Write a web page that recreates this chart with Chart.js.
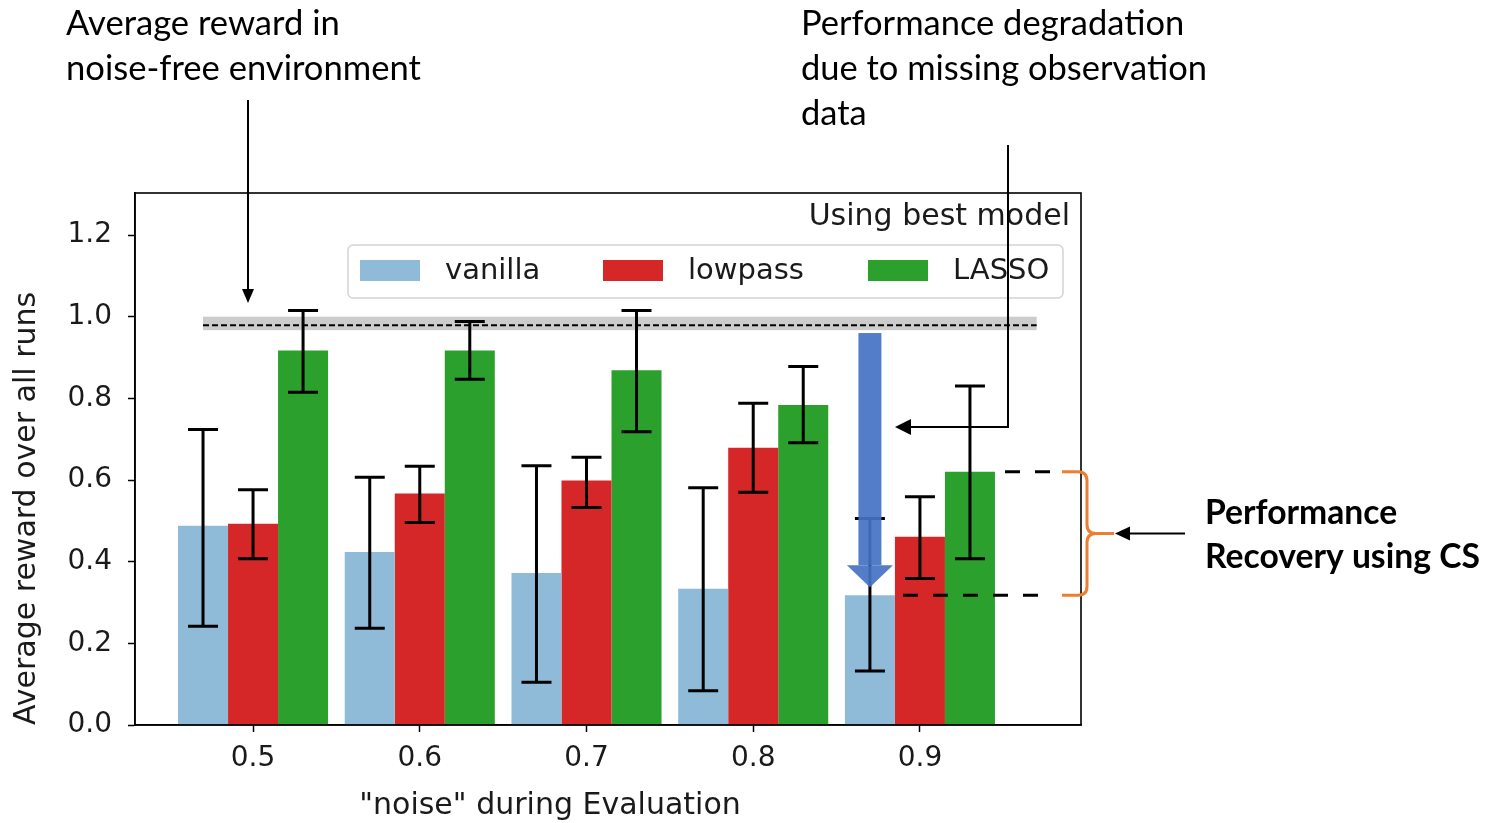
<!DOCTYPE html>
<html>
<head>
<meta charset="utf-8">
<script src="https://cdn.jsdelivr.net/npm/chart.js@4/dist/chart.umd.min.js"></script>
<style>
  html, body { margin: 0; padding: 0; background: #fff; }
  #wrap { width: 1486px; height: 823px; position: relative; }
</style>
</head>
<body>
<div id="wrap"><canvas id="canvas"></canvas></div>
<script>
// noise levels on the x axis
const noise = [0.5, 0.6, 0.7, 0.8, 0.9];
const seriesNames = ['vanilla', 'lowpass', 'LASSO'];
const seriesColors = ['#8fbbd9', '#d62728', '#2ca02c'];

// mean reward per method, with error bar ends
const vanilla   = [0.488, 0.424, 0.372, 0.334, 0.318];
const vanillaHi = [0.724, 0.607, 0.635, 0.581, 0.506];
const vanillaLo = [0.242, 0.237, 0.105, 0.084, 0.132];
const lowpass   = [0.493, 0.567, 0.599, 0.679, 0.461];
const lowpassHi = [0.576, 0.634, 0.656, 0.788, 0.559];
const lowpassLo = [0.407, 0.496, 0.533, 0.570, 0.359];
const lasso     = [0.917, 0.917, 0.869, 0.784, 0.620];
const lassoHi   = [1.015, 0.988, 1.015, 0.878, 0.830];
const lassoLo   = [0.815, 0.847, 0.718, 0.691, 0.407];

// noise-free reference (dashed line + grey band)
const noiseFree = 0.979;
const noiseFreeLo = 0.967;
const noiseFreeHi = 1.0;
const noiseFreeSpan = [0.47, 0.97];

const yTicks = [0, 0.2, 0.4, 0.6, 0.8, 1.0, 1.2];

const FONT = 'DejaVu Sans';
const NOTE_FONT = 'Lato';

const means = [vanilla, lowpass, lasso];
const highs = [vanillaHi, lowpassHi, lassoHi];
const lows = [vanillaLo, lowpassLo, lassoLo];

function arrowHead(c, tipX, tipY, dir, len, half) {
  c.beginPath();
  if (dir === 'down') {
    c.moveTo(tipX, tipY); c.lineTo(tipX - half, tipY - len); c.lineTo(tipX + half, tipY - len);
  } else if (dir === 'left') {
    c.moveTo(tipX, tipY); c.lineTo(tipX + len, tipY - half); c.lineTo(tipX + len, tipY + half);
  }
  c.closePath();
  c.fill();
}

function fitText(c, lines, weight, target) {
  c.font = weight + ' 100px ' + NOTE_FONT;
  let w = 0;
  lines.forEach(l => { w = Math.max(w, c.measureText(l).width); });
  return 100 * target / w;
}

const bandPlugin = {
  id: 'band',
  beforeDatasetsDraw(chart) {
    const c = chart.ctx, x = chart.scales.x, y = chart.scales.y;
    const x0 = x.getPixelForValue(noiseFreeSpan[0]), x1 = x.getPixelForValue(noiseFreeSpan[1]);
    c.save();
    c.fillStyle = '#cccccc';
    c.fillRect(x0, y.getPixelForValue(noiseFreeHi), x1 - x0, y.getPixelForValue(noiseFreeLo) - y.getPixelForValue(noiseFreeHi));
    c.strokeStyle = '#000';
    c.lineWidth = 2;
    c.setLineDash([6, 3]);
    c.beginPath();
    c.moveTo(x0, y.getPixelForValue(noiseFree));
    c.lineTo(x1, y.getPixelForValue(noiseFree));
    c.stroke();
    c.restore();
  }
};

const extrasPlugin = {
  id: 'extras',
  afterDatasetsDraw(chart) {
    const c = chart.ctx, y = chart.scales.y, a = chart.chartArea;
    c.save();
    // error bars
    c.strokeStyle = '#000';
    c.lineWidth = 3;
    means.forEach((m, d) => {
      const meta = chart.getDatasetMeta(d);
      m.forEach((v, i) => {
        const bx = meta.data[i].x;
        const yh = y.getPixelForValue(highs[d][i]), yl = y.getPixelForValue(lows[d][i]);
        c.beginPath();
        c.moveTo(bx, yh); c.lineTo(bx, yl);
        c.moveTo(bx - 15, yh); c.lineTo(bx + 15, yh);
        c.moveTo(bx - 15, yl); c.lineTo(bx + 15, yl);
        c.stroke();
      });
    });
    // frame
    c.lineWidth = 1.6;
    c.strokeRect(a.left, a.top, a.right - a.left, a.bottom - a.top);

    // in-axes title
    c.fillStyle = '#1a1a1a';
    c.font = '30px ' + FONT;
    c.textAlign = 'right';
    c.textBaseline = 'middle';
    c.fillText('Using best model', a.right - 11, 217);

    // legend
    c.beginPath();
    c.roundRect(348, 245, 715, 53, 5);
    c.fillStyle = 'rgba(255,255,255,0.8)';
    c.fill();
    c.strokeStyle = '#d4d4d4';
    c.lineWidth = 1.5;
    c.stroke();
    c.font = '29px ' + FONT;
    const lx = [360, 603, 868];
    seriesNames.forEach((n, i) => {
      c.fillStyle = seriesColors[i];
      c.fillRect(lx[i], 260, 60, 21);
      c.fillStyle = '#1a1a1a';
      c.textAlign = 'left';
      c.fillText(n, lx[i] + 85, 271);
    });

    // x axis title
    c.font = '30px ' + FONT;
    c.textAlign = 'center';
    c.fillText('"noise" during Evaluation', 550, 806);
    c.restore();
  },
  afterDraw(chart) {
    const c = chart.ctx, y = chart.scales.y;
    const last = noise.length - 1;
    const vx = chart.getDatasetMeta(0).data[last].x;
    const yTop = y.getPixelForValue(lasso[last]);
    const yBot = y.getPixelForValue(vanilla[last]);
    const yMid = (yTop + yBot) / 2;
    c.save();

    // blue degradation arrow
    c.fillStyle = 'rgba(68,114,196,0.92)';
    const tip = yBot - 8;
    c.fillRect(vx - 11.5, y.getPixelForValue(0.96), 23, tip - 22 - y.getPixelForValue(0.96));
    arrowHead(c, vx, tip, 'down', 22, 23);

    // dashed recovery markers
    c.strokeStyle = '#000';
    c.lineWidth = 3;
    c.setLineDash([15, 15]);
    c.beginPath();
    c.moveTo(1005, yTop); c.lineTo(1052, yTop);
    c.moveTo(903, yBot); c.lineTo(1053, yBot);
    c.stroke();
    c.setLineDash([]);

    // orange brace
    c.strokeStyle = '#ed7d31';
    c.lineWidth = 3;
    c.beginPath();
    c.moveTo(1062, yTop); c.lineTo(1078, yTop);
    c.quadraticCurveTo(1087, yTop, 1087, yTop + 9);
    c.lineTo(1087, yMid - 9);
    c.quadraticCurveTo(1087, yMid, 1096, yMid);
    c.lineTo(1114, yMid);
    c.moveTo(1062, yBot); c.lineTo(1078, yBot);
    c.quadraticCurveTo(1087, yBot, 1087, yBot - 9);
    c.lineTo(1087, yMid + 9);
    c.quadraticCurveTo(1087, yMid, 1096, yMid);
    c.stroke();

    // black pointer arrows
    c.strokeStyle = '#000';
    c.fillStyle = '#000';
    c.lineWidth = 2;
    c.beginPath();
    c.moveTo(248, 100); c.lineTo(248, 290);
    c.moveTo(1008, 145); c.lineTo(1008, 427); c.lineTo(908, 427);
    c.moveTo(1185, yMid); c.lineTo(1128, yMid);
    c.stroke();
    arrowHead(c, 248, 303, 'down', 14, 6);
    arrowHead(c, 895, 427, 'left', 16, 8);
    arrowHead(c, 1115, yMid, 'left', 15, 7);

    // notes
    c.textAlign = 'left';
    c.textBaseline = 'alphabetic';
    const n1 = ['Average reward in', 'noise-free environment'];
    let s = fitText(c, n1, 'normal', 355);
    c.font = s + 'px ' + NOTE_FONT;
    n1.forEach((l, i) => c.fillText(l, 66, 35 + i * 45));
    const n2 = ['Performance degradation', 'due to missing observation', 'data'];
    s = fitText(c, n2, 'normal', 406);
    c.font = s + 'px ' + NOTE_FONT;
    n2.forEach((l, i) => c.fillText(l, 801, 35 + i * 45));
    const n3 = ['Performance', 'Recovery using CS'];
    s = fitText(c, n3, 'bold', 275);
    c.font = 'bold ' + s + 'px ' + NOTE_FONT;
    n3.forEach((l, i) => c.fillText(l, 1205, 524 + i * 44));
    c.restore();
  }
};

const ctx = document.getElementById('canvas');
const data = {
  datasets: seriesNames.map((n, d) => ({
    label: n,
    data: noise.map((x, i) => ({ x: x, y: means[d][i] })),
    backgroundColor: seriesColors[d],
    borderWidth: 0,
    categoryPercentage: 0.9,
    barPercentage: 1.0
  }))
};

const config = {
  type: 'bar',
  data: data,
  options: {
    responsive: true,
    maintainAspectRatio: false,
    animation: false,
    devicePixelRatio: 1,
    layout: { padding: { left: 0, right: 405, top: 193, bottom: 0 } },
    plugins: { legend: { display: false }, tooltip: { enabled: false } },
    scales: {
      x: {
        type: 'linear',
        offset: false,
        min: 0.4292,
        max: 0.9966,
        afterBuildTicks: (scale) => { scale.ticks = noise.map(v => ({ value: v })); },
        afterFit: (scale) => { scale.height = 98; },
        ticks: {
          callback: (v) => Number(v).toFixed(1),
          font: { family: FONT, size: 28 },
          color: '#1a1a1a',
          padding: 10,
          maxRotation: 0
        },
        grid: { offset: false, drawOnChartArea: false, tickLength: 7, color: '#000', tickWidth: 1.5 },
        border: { color: '#000', width: 1.6 }
      },
      y: {
        min: 0,
        max: 1.303,
        afterBuildTicks: (scale) => { scale.ticks = yTicks.map(v => ({ value: v })); },
        afterFit: (scale) => { scale.width = 135; },
        ticks: {
          callback: (v) => Number(v).toFixed(1),
          font: { family: FONT, size: 28 },
          color: '#1a1a1a',
          padding: 16
        },
        grid: { drawOnChartArea: false, tickLength: 7, color: '#000', tickWidth: 1.5 },
        border: { color: '#000', width: 1.6 },
        title: {
          display: true,
          text: 'Average reward over all runs',
          align: 'start',
          font: { family: FONT, size: 30 },
          color: '#1a1a1a',
          padding: { top: 9, bottom: 0 }
        }
      }
    }
  },
  plugins: [bandPlugin, extrasPlugin]
};

let chart = new Chart(ctx, config);
</script>
</body>
</html>
